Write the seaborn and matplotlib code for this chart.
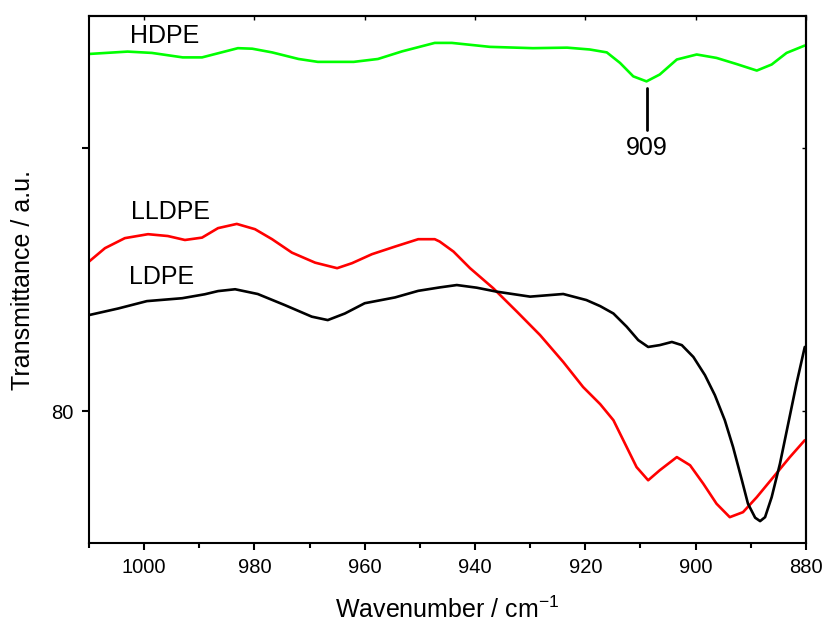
import numpy as np
import pandas as pd
import matplotlib
matplotlib.use("Agg")
import matplotlib.pyplot as plt
import seaborn as sns
from matplotlib.ticker import FixedLocator

# FTIR transmittance spectra in the 1010-880 cm^-1 window
hdpe_wn = [1010, 1003, 998.6, 993, 989.5, 983, 980.4, 976.8, 972, 968.5, 962,
           957.6, 953.2, 947.3, 944.2, 937.3, 929.5, 923.3, 919.2, 916.1, 913.7,
           911.3, 908.9, 906.5, 903.4, 899.8, 896.2, 892.6, 888.9, 886.2, 883.5, 880.2]
hdpe_t = [93.56, 93.65, 93.60, 93.43, 93.43, 93.78, 93.76, 93.62, 93.37, 93.26, 93.26,
          93.37, 93.66, 93.98, 93.98, 93.83, 93.78, 93.80, 93.73, 93.62, 93.22,
          92.71, 92.52, 92.78, 93.35, 93.54, 93.41, 93.18, 92.93, 93.16, 93.60, 93.88]

lldpe_wn = [1010, 1007.1, 1003.5, 999.3, 995.7, 992.6, 989.5, 986.6, 983.2, 979.9,
            976.8, 973.2, 969.0, 965.0, 962.3, 958.7, 954.5, 950.3, 947.3, 946.4,
            943.9, 940.9, 936.7, 932.4, 928.2, 924.0, 920.4, 917.3, 914.9, 912.8,
            910.7, 908.6, 906.5, 903.4, 901.0, 898.6, 896.2, 893.8, 891.4, 888.9,
            885.9, 882.9, 880.2]
lldpe_t = [85.68, 86.19, 86.57, 86.72, 86.65, 86.50, 86.59, 86.95, 87.11, 86.91,
           86.53, 86.02, 85.64, 85.43, 85.62, 85.96, 86.25, 86.53, 86.53, 86.44,
           86.06, 85.43, 84.67, 83.78, 82.89, 81.87, 80.92, 80.27, 79.66, 78.77,
           77.88, 77.38, 77.76, 78.26, 77.95, 77.25, 76.49, 75.98, 76.17, 76.74,
           77.50, 78.26, 78.90]

ldpe_wn = [1010, 1004.7, 999.5, 993.1, 989.0, 986.6, 983.5, 979.4, 974.5, 969.6,
           966.7, 963.6, 960.0, 954.5, 950.3, 946.4, 943.3, 939.7, 936.1, 930.0,
           924.0, 919.8, 917.3, 914.9, 912.5, 910.4, 908.6, 906.5, 904.3, 902.5,
           900.4, 898.3, 896.5, 894.7, 893.2, 891.6, 890.5, 889.2, 888.3, 887.4,
           886.2, 884.7, 883.2, 881.7, 880.2]
ldpe_t = [83.65, 83.90, 84.18, 84.29, 84.44, 84.56, 84.63, 84.45, 84.03, 83.59,
          83.46, 83.71, 84.10, 84.32, 84.57, 84.70, 84.79, 84.69, 84.54, 84.35,
          84.45, 84.22, 83.99, 83.71, 83.21, 82.70, 82.44, 82.51, 82.63, 82.51,
          82.06, 81.37, 80.61, 79.66, 78.64, 77.38, 76.49, 75.96, 75.83, 75.98,
          76.74, 78.01, 79.53, 81.05, 82.44]

series_names = ["HDPE", "LLDPE", "LDPE"]
series_colors = ["#00ff00", "#ff0000", "#000000"]
label_pos = [(996.2, 94.26), (995.3, 87.57), (996.8, 85.10)]

x_major = [1000, 980, 960, 940, 920, 900, 880]
x_minor = [1010, 990, 970, 950, 930, 910, 890]
y_major = [80, 90]
y_labels = ["80", ""]

sns.set_theme(style="ticks")
plt.rcParams["font.family"] = ["Liberation Sans", "DejaVu Sans"]
plt.rcParams["mathtext.fontset"] = "custom"
plt.rcParams["mathtext.rm"] = "Liberation Sans"
plt.rcParams["text.color"] = "black"
plt.rcParams["axes.labelcolor"] = "black"
plt.rcParams["xtick.color"] = "black"
plt.rcParams["ytick.color"] = "black"

fig = plt.figure(figsize=(8.24, 6.26), dpi=100)
ax = fig.add_axes([0.108, 0.1326, 0.870, 0.8418])

frames = [
    pd.DataFrame({"wn": hdpe_wn, "t": hdpe_t}),
    pd.DataFrame({"wn": lldpe_wn, "t": lldpe_t}),
    pd.DataFrame({"wn": ldpe_wn, "t": ldpe_t}),
]
for df, color in zip(frames, series_colors):
    sns.lineplot(data=df, x="wn", y="t", sort=False, estimator=None,
                 color=color, linewidth=1.9, ax=ax,
                 solid_joinstyle="round", solid_capstyle="round")

ax.set_xlim(1010, 880)
ax.set_ylim(75, 95)

# Curve labels
for name, (lx, ly) in zip(series_names, label_pos):
    ax.text(lx, ly, name, fontsize=18, ha="center", va="center", color="black")

# Peak marker for the HDPE band
peak = 908.8
ax.plot([peak, peak], [92.28, 90.68], color="black", linewidth=2.0)
ax.text(peak, 90.0, "909", fontsize=18, ha="center", va="center", color="black")

# Axis ticks
ax.xaxis.set_major_locator(FixedLocator(x_major))
ax.xaxis.set_minor_locator(FixedLocator(x_minor))
ax.yaxis.set_major_locator(FixedLocator(y_major))
ax.set_yticklabels(y_labels)
ax.tick_params(axis="both", which="major", direction="out", length=5, width=1.5,
               labelsize=14.5, colors="black", pad=6)
ax.tick_params(axis="x", which="minor", direction="out", length=3.5, width=1.5,
               colors="black")

# Inward ticks along the top and right frame
top = ax.secondary_xaxis("top")
top.xaxis.set_major_locator(FixedLocator(x_major))
top.tick_params(direction="in", length=3, width=1, labeltop=False, colors="black")
right = ax.secondary_yaxis("right")
right.yaxis.set_major_locator(FixedLocator(y_major))
right.tick_params(direction="in", length=3, width=1, labelright=False, colors="black")
for sec in (top, right):
    for sp in sec.spines.values():
        sp.set_linewidth(1.5)
        sp.set_color("black")

for sp in ax.spines.values():
    sp.set_visible(True)
    sp.set_linewidth(1.5)
    sp.set_color("black")

ax.set_xlabel(r"Wavenumber / cm$^{\mathrm{-1}}$", fontsize=18, labelpad=14, color="black")
ax.set_ylabel("Transmittance / a.u.", fontsize=18, labelpad=12, color="black")
ax.grid(False)

fig.savefig("out.png", dpi=100)
